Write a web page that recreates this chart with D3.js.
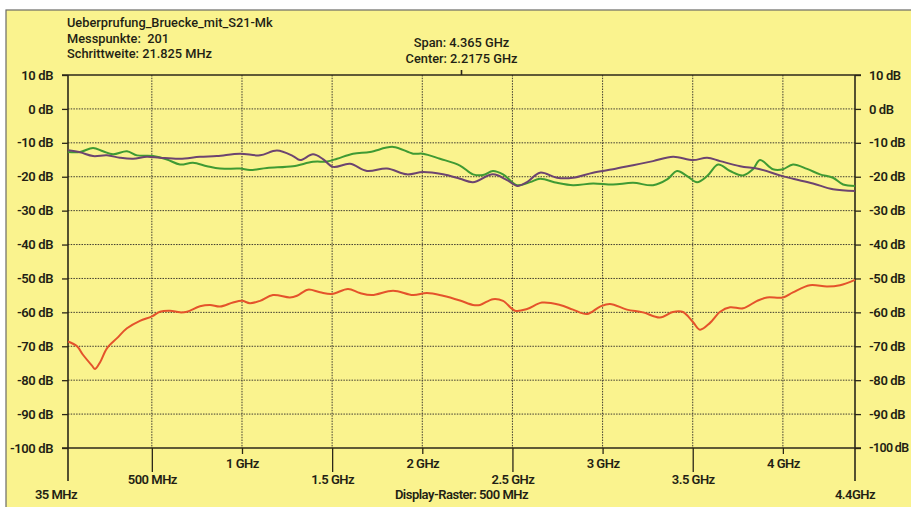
<!DOCTYPE html>
<html>
<head>
<meta charset="utf-8">
<script src="https://cdn.jsdelivr.net/npm/d3@7"></script>
<style>
  html, body { margin: 0; padding: 0; background: #ffffff; }
  svg { display: block; }
  text { font-family: Roboto, "Open Sans", sans-serif; fill: #231f14; white-space: pre; }
</style>
</head>
<body>
<svg id="chart" width="911" height="507"></svg>
<script>
// Sweep settings shown in the header
const headerLines = ["Ueberprufung_Bruecke_mit_S21-Mk", "Messpunkte:  201", "Schrittweite: 21.825 MHz"];
const centerLines = ["Span: 4.365 GHz", "Center: 2.2175 GHz"];
const rasterLabel = "Display-Raster: 500 MHz";

// Axis definitions
const freqStart = 35, freqStop = 4400, freqCenter = 2217.5;
const dbTicks = [10, 0, -10, -20, -30, -40, -50, -60, -70, -80, -90, -100];
const gridFreqs = [500, 1000, 1500, 2000, 2500, 3000, 3500, 4000];
const freqLabels = ["500 MHz", "1 GHz", "1.5 GHz", "2 GHz", "2.5 GHz", "3 GHz", "3.5 GHz", "4 GHz"];

// Green trace (MHz, dB)
const greenFreq = [35, 102, 174, 229, 285, 362, 418, 507, 584, 656, 728, 806, 878, 989, 1044, 1139, 1283, 1394, 1472, 1527, 1616, 1710, 1838, 1949, 2004, 2098, 2209, 2281, 2337, 2392, 2448, 2526, 2598, 2653, 2747, 2836, 2947, 3058, 3169, 3280, 3358, 3413, 3469, 3524, 3580, 3641, 3707, 3779, 3834, 3873, 3945, 4000, 4056, 4134, 4206, 4278, 4334, 4400];
const greenDb = [-12.7, -12.7, -11.5, -12.5, -13.4, -12.5, -13.7, -13.9, -14.9, -16.4, -15.9, -16.9, -17.6, -17.6, -18.0, -17.4, -16.9, -15.6, -15.5, -14.7, -13.2, -12.7, -11.2, -13.2, -13.2, -14.7, -16.7, -19.3, -19.5, -18.3, -19.3, -22.5, -21.6, -20.6, -21.8, -22.5, -22.0, -22.3, -21.8, -22.5, -20.8, -18.3, -19.8, -21.6, -19.8, -16.4, -18.3, -19.6, -17.8, -15.1, -17.8, -17.8, -16.4, -17.7, -19.3, -20.3, -22.3, -22.7];

// Purple trace (MHz, dB)
const purpleFreq = [35, 102, 174, 251, 323, 396, 473, 545, 656, 767, 861, 989, 1100, 1194, 1283, 1322, 1394, 1449, 1505, 1599, 1693, 1804, 1915, 2004, 2115, 2209, 2281, 2392, 2470, 2526, 2581, 2653, 2747, 2836, 2947, 3058, 3169, 3280, 3391, 3502, 3580, 3652, 3763, 3873, 3984, 4056, 4167, 4278, 4400];
const purpleDb = [-12.2, -12.8, -13.9, -13.7, -14.4, -14.7, -14.1, -14.4, -14.7, -14.1, -13.9, -13.2, -13.7, -12.3, -13.9, -15.1, -13.4, -14.8, -17.1, -16.2, -18.3, -17.6, -19.3, -18.6, -19.3, -20.6, -21.6, -19.3, -21.0, -22.7, -21.6, -18.8, -20.3, -20.3, -18.8, -17.8, -16.6, -15.4, -14.1, -15.1, -14.4, -15.4, -16.9, -17.8, -19.6, -20.6, -22.0, -23.7, -24.2];

// Red trace (MHz, dB)
const redFreq = [35, 85, 118, 168, 185, 213, 251, 307, 362, 434, 501, 545, 601, 656, 695, 767, 823, 878, 950, 1000, 1044, 1100, 1172, 1266, 1305, 1366, 1433, 1499, 1588, 1654, 1721, 1838, 1949, 2026, 2115, 2209, 2281, 2320, 2392, 2448, 2514, 2581, 2664, 2764, 2836, 2914, 2986, 3041, 3135, 3224, 3318, 3390, 3446, 3502, 3540, 3596, 3652, 3707, 3779, 3857, 3912, 4000, 4056, 4150, 4245, 4317, 4400];
const redDb = [-68.6, -70.0, -72.5, -75.7, -76.7, -74.7, -70.6, -67.6, -64.7, -62.5, -61.2, -59.8, -59.5, -60.0, -59.8, -58.2, -57.8, -58.3, -57.1, -56.6, -57.3, -56.6, -54.9, -55.6, -55.1, -53.3, -54.1, -54.6, -53.1, -54.3, -54.9, -53.6, -54.9, -54.3, -55.1, -56.5, -57.8, -57.8, -56.1, -56.6, -59.5, -59.0, -57.1, -57.8, -59.2, -60.5, -58.3, -57.5, -59.2, -60.0, -61.5, -59.9, -59.9, -62.9, -65.1, -63.1, -59.8, -58.5, -58.8, -56.6, -55.6, -55.6, -54.1, -52.0, -52.4, -52.0, -50.4];

const series = [
  { freq: greenFreq, db: greenDb, color: "#3f9a33" },
  { freq: purpleFreq, db: purpleDb, color: "#6c4470" },
  { freq: redFreq, db: redDb, color: "#e4532b" }
];

const svg = d3.select("#chart");
const W = 911, H = 507;
const plotLeft = 68, plotRight = 855, plotTop = 75, plotBottom = 448;

const x = d3.scaleLinear().domain([freqStart, freqStop]).range([plotLeft, plotRight]);
const y = d3.scaleLinear().domain([-100, 10]).range([plotBottom, plotTop]);

const ink = "#2b2719";
const bg = "#faf38e";

// Paper background with a thin frame
svg.append("rect").attr("x", 0).attr("y", 0).attr("width", W).attr("height", H).attr("fill", "#ffffff");
svg.append("rect").attr("x", 6).attr("y", 10).attr("width", W).attr("height", H)
  .attr("fill", bg).attr("stroke", "#6b6b66").attr("stroke-width", 1.2);

// Header text
const hdr = svg.append("g").attr("font-size", 12.8).attr("font-weight", 500);
headerLines.forEach((t, i) => {
  hdr.append("text").attr("x", 67).attr("y", 27 + i * 15.5).text(t);
});
centerLines.forEach((t, i) => {
  hdr.append("text").attr("x", x(freqCenter)).attr("y", 47 + i * 15.5)
    .attr("text-anchor", "middle").text(t);
});

// Dotted grid
const grid = svg.append("g").attr("stroke", "#3f3b30").attr("stroke-width", 1)
  .attr("stroke-dasharray", "1.5,1.2");
grid.selectAll("line.h").data(dbTicks.filter(d => d !== 10 && d !== -100)).join("line")
  .attr("class", "h")
  .attr("x1", plotLeft).attr("x2", plotRight).attr("y1", d => y(d)).attr("y2", d => y(d));
grid.selectAll("line.v").data(gridFreqs).join("line")
  .attr("class", "v")
  .attr("x1", d => x(d)).attr("x2", d => x(d)).attr("y1", plotTop).attr("y2", plotBottom);

// Left and right dB axes
const fmt = d => d + " dB";
const leftAxis = svg.append("g").attr("transform", `translate(${plotLeft},0)`)
  .call(d3.axisLeft(y).tickValues(dbTicks).tickFormat(fmt).tickSize(6).tickPadding(9));
const rightAxis = svg.append("g").attr("transform", `translate(${plotRight},0)`)
  .call(d3.axisRight(y).tickValues(dbTicks).tickFormat(fmt).tickSize(6).tickPadding(8));
[leftAxis, rightAxis].forEach(g => {
  g.select(".domain").remove();
  g.selectAll(".tick line").attr("stroke", ink).attr("stroke-width", 1.3);
  g.selectAll(".tick text").attr("font-size", 13).attr("font-weight", 600)
    .attr("font-family", "Roboto, sans-serif").attr("fill", ink).attr("letter-spacing", -0.4);
});
// The widest right-hand label is drawn slightly tighter so it stays on the page
rightAxis.selectAll(".tick text").filter(d => d <= -100)
  .attr("font-size", 12.4).attr("letter-spacing", -0.6);

// Solid frame lines: top and bottom references, side axes
const frame = svg.append("g").attr("stroke", ink).attr("stroke-width", 1.6);
frame.append("line").attr("x1", plotLeft - 6).attr("x2", plotRight + 6).attr("y1", y(10)).attr("y2", y(10));
frame.append("line").attr("x1", plotLeft - 6).attr("x2", plotRight + 6).attr("y1", y(-100)).attr("y2", y(-100));
frame.append("line").attr("x1", plotLeft).attr("x2", plotLeft).attr("y1", plotTop).attr("y2", 481);
frame.append("line").attr("x1", plotRight).attr("x2", plotRight).attr("y1", plotTop).attr("y2", 481);
// Center marker above the top line
frame.append("line").attr("x1", x(freqCenter)).attr("x2", x(freqCenter)).attr("y1", plotTop - 5).attr("y2", plotTop);

// Frequency axis: half-GHz ticks drop lower than the full-GHz ticks
const fAxis = svg.append("g").attr("transform", `translate(0,${plotBottom})`)
  .call(d3.axisBottom(x).tickValues(gridFreqs).tickFormat((d, i) => freqLabels[i]).tickSize(0));
fAxis.select(".domain").remove();
fAxis.selectAll(".tick").each(function(d) {
  const half = d % 1000 !== 0;
  const g = d3.select(this);
  g.select("line").attr("y2", half ? 24 : 6).attr("stroke", ink).attr("stroke-width", 1.3);
  g.select("text").attr("y", half ? 27 : 11).attr("dy", "0.71em")
    .attr("font-size", 13).attr("font-weight", 600).attr("fill", ink).attr("letter-spacing", -0.5);
});

const foot = svg.append("g").attr("font-size", 13).attr("font-weight", 600).attr("letter-spacing", -0.5);
foot.append("text").attr("x", x(freqStart) - 12).attr("y", 499).attr("text-anchor", "middle").text("35 MHz");
foot.append("text").attr("x", x(freqStop)).attr("y", 499).attr("text-anchor", "middle").text("4.4GHz");
foot.append("text").attr("x", x(freqCenter)).attr("y", 499).attr("text-anchor", "middle").text(rasterLabel);

// Measurement traces
const line = d3.line().x(d => x(d[0])).y(d => y(d[1])).curve(d3.curveCatmullRom.alpha(0.5));
svg.append("g").selectAll("path").data(series).join("path")
  .attr("d", s => line(s.freq.map((f, i) => [f, s.db[i]])))
  .attr("fill", "none").attr("stroke", s => s.color).attr("stroke-width", 2)
  .attr("stroke-linejoin", "round");
</script>
</body>
</html>
